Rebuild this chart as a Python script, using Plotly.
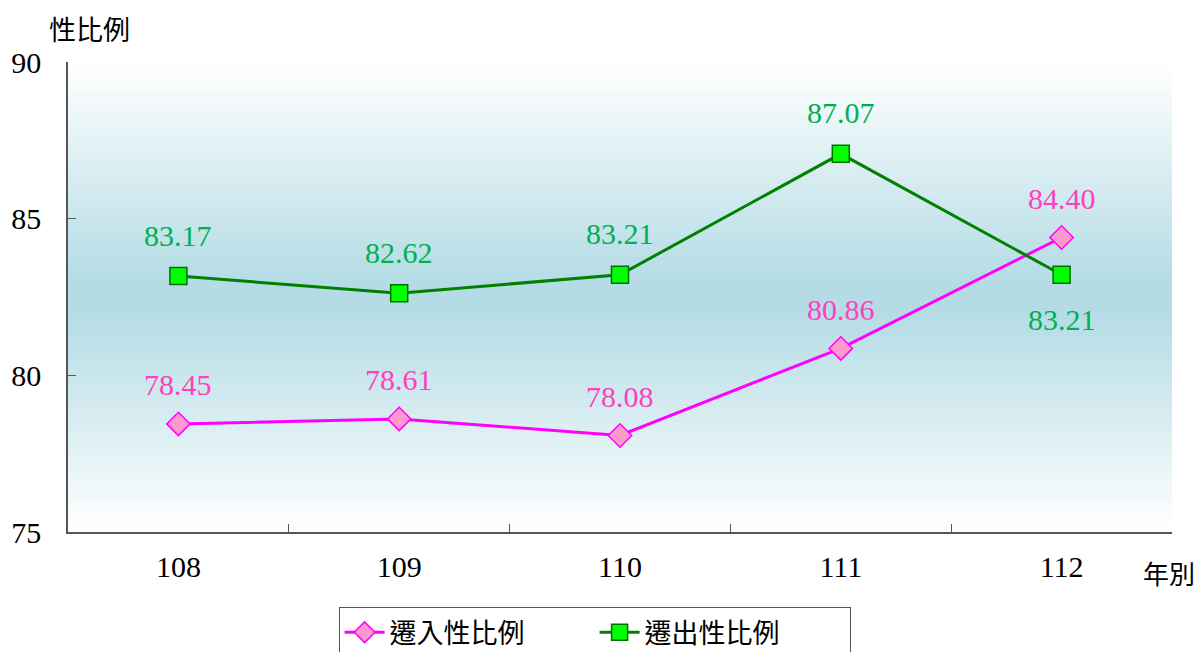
import plotly.graph_objects as go

years = ["108", "109", "110", "111", "112"]
in_ratio = [78.45, 78.61, 78.08, 80.86, 84.40]
out_ratio = [83.17, 82.62, 83.21, 87.07, 83.21]
in_name = "遷入性比例"
out_name = "遷出性比例"
y_ticks = [75, 80, 85, 90]

NUM_FONT = "Liberation Serif"
CJK_FONT = "Noto Sans CJK TC"

fig = go.Figure()
fig.add_trace(go.Scatter(
    x=years, y=in_ratio, name=in_name, mode="lines+markers",
    line=dict(color="#FF00FF", width=3),
    marker=dict(symbol="diamond", size=18, color="#FF99CC", line=dict(color="#FF00FF", width=1.5)),
))
fig.add_trace(go.Scatter(
    x=years, y=out_ratio, name=out_name, mode="lines+markers",
    line=dict(color="#008000", width=3),
    marker=dict(symbol="square", size=17, color="#00FF00", line=dict(color="#007000", width=1.5)),
))

# data labels (x given as category index)
ann = []
for i, v in enumerate(in_ratio):
    ann.append(dict(x=i, y=v, xref="x", yref="y", text=f"{v:.2f}", showarrow=False, yshift=39,
                    font=dict(family=NUM_FONT, size=30, color="#FF3FBF")))
for i, v in enumerate(out_ratio):
    ys = -45 if i == len(out_ratio) - 1 else 41
    ann.append(dict(x=i, y=v, xref="x", yref="y", text=f"{v:.2f}", showarrow=False, yshift=ys,
                    font=dict(family=NUM_FONT, size=30, color="#00B050")))

ann.append(dict(xref="paper", yref="paper", x=-0.019, y=1.0, yshift=34, xanchor="left", yanchor="middle",
                text="性比例", showarrow=False, font=dict(family=CJK_FONT, size=27, color="#000")))
ann.append(dict(xref="paper", yref="paper", x=1.0, y=0, yshift=-40, xshift=-31, xanchor="left", yanchor="middle",
                text="年別", showarrow=False, font=dict(family=CJK_FONT, size=26, color="#000")))

# gradient background bands
shapes = []
n = 60
top = (255, 255, 255)
mid = (181, 220, 229)
for k in range(n):
    y0 = k / n
    y1 = (k + 1) / n
    c = (y0 + y1) / 2
    t = 1 - abs(c - 0.5) / 0.5
    t = min(1.0, t * 1.08)
    col = tuple(round(top[j] + (mid[j] - top[j]) * t) for j in range(3))
    shapes.append(dict(type="rect", xref="x domain", yref="y domain", x0=0, x1=1,
                       y0=y0, y1=y1 + 0.002, fillcolor=f"rgb{col}", line=dict(width=0), layer="below"))

fig.update_layout(
    width=1204, height=652,
    margin=dict(l=68, r=32, t=62, b=120, autoexpand=False),
    paper_bgcolor="white", plot_bgcolor="white",
    showlegend=True,
    legend=dict(orientation="h", x=0.477, xanchor="center", y=-0.16, yanchor="top",
                bordercolor="#555", borderwidth=1, bgcolor="white",
                font=dict(family=CJK_FONT, size=27, color="#000"),
                itemwidth=40, entrywidth=200),
    annotations=ann,
    shapes=shapes,
)
fig.update_xaxes(type="category", range=[-0.5, 4.5], tickson="boundaries", ticks="inside", ticklen=8,
                 tickcolor="#555", showline=True, linecolor="#555", linewidth=1.5,
                 showgrid=False, tickfont=dict(family=NUM_FONT, size=30, color="#000"),
                 ticklabelstandoff=7, zeroline=False, automargin=False, tickangle=0)
fig.update_yaxes(range=[75, 90], tickvals=y_ticks, ticks="inside", ticklen=8, tickcolor="#555",
                 showline=True, linecolor="#555", linewidth=1.5, showgrid=False, zeroline=False,
                 tickfont=dict(family=NUM_FONT, size=30, color="#000"), ticklabelstandoff=19,
                 automargin=False)

fig.write_html("out.html", config={"displayModeBar": False},
               post_script="document.body.style.margin='0';")
